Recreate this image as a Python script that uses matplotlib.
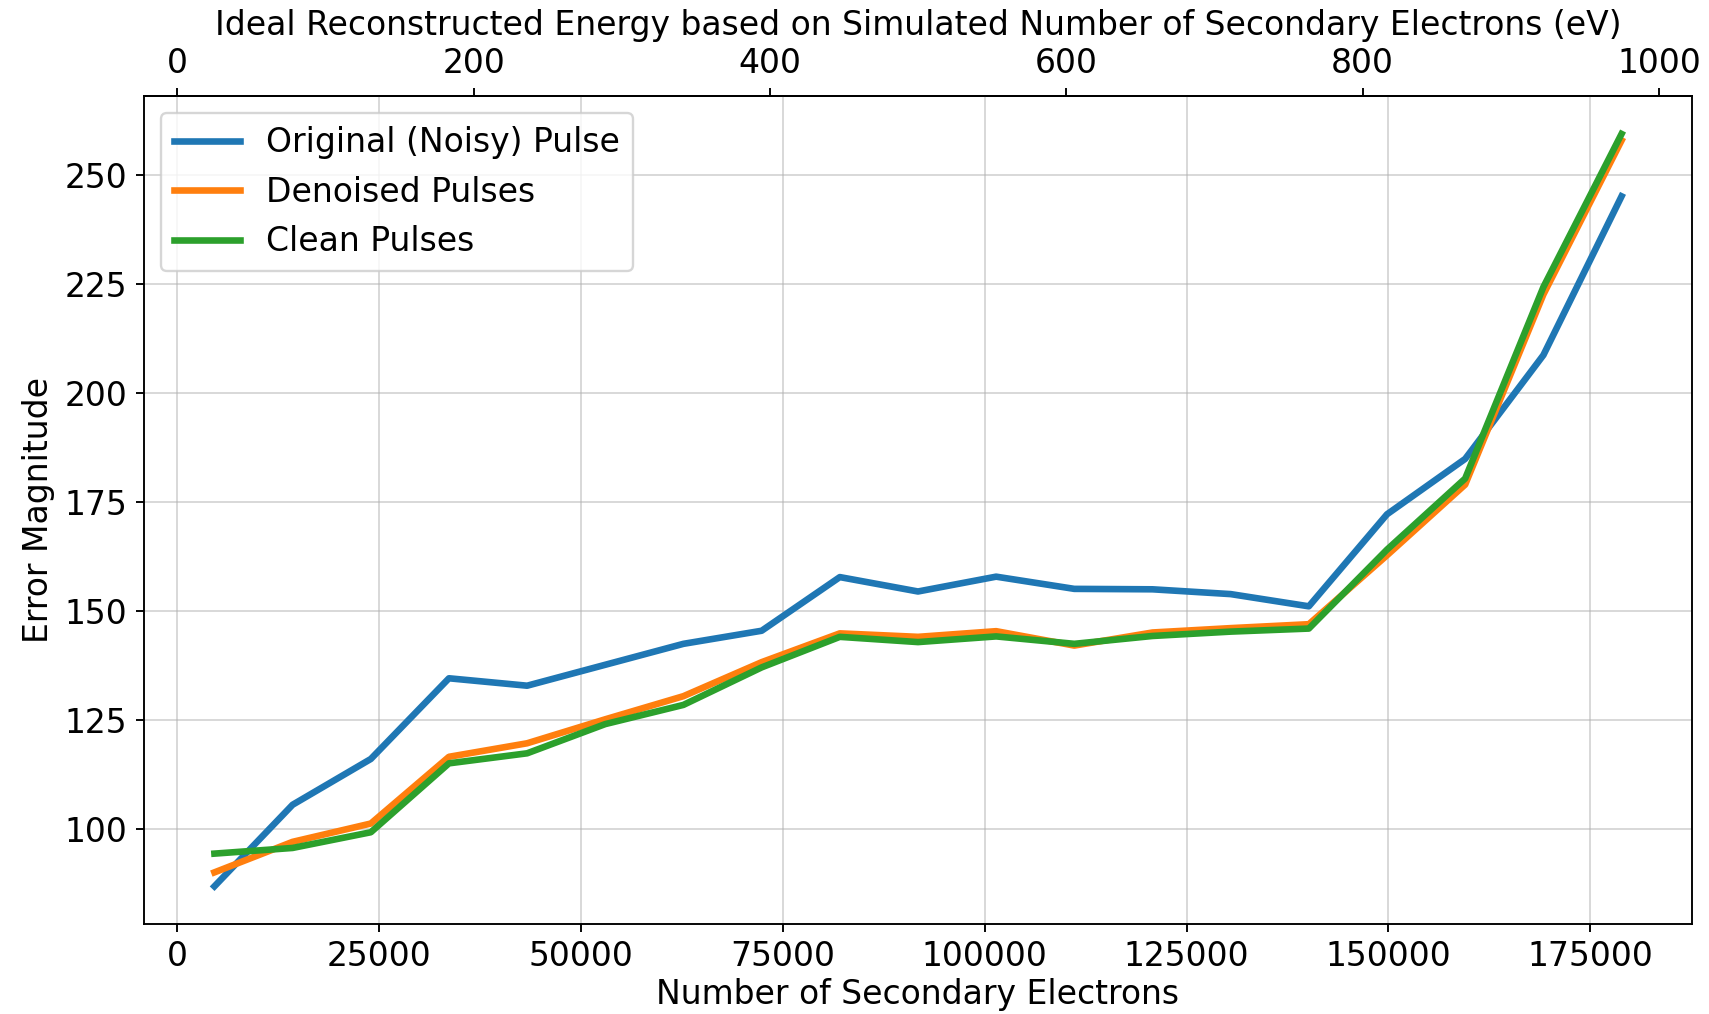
import matplotlib
matplotlib.use('Agg')
import matplotlib.pyplot as plt

plt.rcParams['font.size'] = 14

# secondary electrons per eV of deposited energy
electrons_per_ev = 183.5

n_electrons = [4590, 14270, 23960, 33640, 43320, 53000, 62680, 72370, 82050, 91730,
               101410, 111090, 120780, 130460, 140140, 149820, 159500, 169190, 178870]
err_noisy = [86.8, 105.5, 116.0, 134.5, 132.8, 137.6, 142.4, 145.4, 157.7, 154.4,
             157.8, 155.0, 154.9, 153.8, 151.0, 172.1, 184.8, 208.6, 245.0]
err_denoised = [90.0, 97.0, 101.2, 116.5, 119.6, 125.1, 130.4, 138.2, 144.8, 144.0,
                145.3, 142.0, 145.0, 146.0, 146.9, 162.7, 178.9, 222.5, 257.8]
err_clean = [94.3, 95.6, 99.2, 115.0, 117.3, 124.0, 128.4, 137.0, 144.0, 142.8,
             144.1, 142.4, 144.2, 145.2, 145.9, 164.0, 180.3, 224.2, 259.3]

fig, ax = plt.subplots(figsize=(1709 / 170, 1014 / 170), dpi=170)
fig.subplots_adjust(left=0.0843, right=0.990, top=0.905, bottom=0.0888)

ax.plot(n_electrons, err_noisy, lw=2.8, label='Original (Noisy) Pulse')
ax.plot(n_electrons, err_denoised, lw=2.8, label='Denoised Pulses')
ax.plot(n_electrons, err_clean, lw=2.8, label='Clean Pulses')

ax.set_xlabel('Number of Secondary Electrons', labelpad=2)
ax.set_ylabel('Error Magnitude')
ax.grid(True, alpha=0.5)
ax.legend(loc='upper left')

ax_top = ax.secondary_xaxis('top', functions=(lambda n: n / electrons_per_ev,
                                              lambda e: e * electrons_per_ev))
ax_top.set_xlabel('Ideal Reconstructed Energy based on Simulated Number of Secondary Electrons (eV)',
                  labelpad=5)

fig.savefig('out.png', dpi=170)
